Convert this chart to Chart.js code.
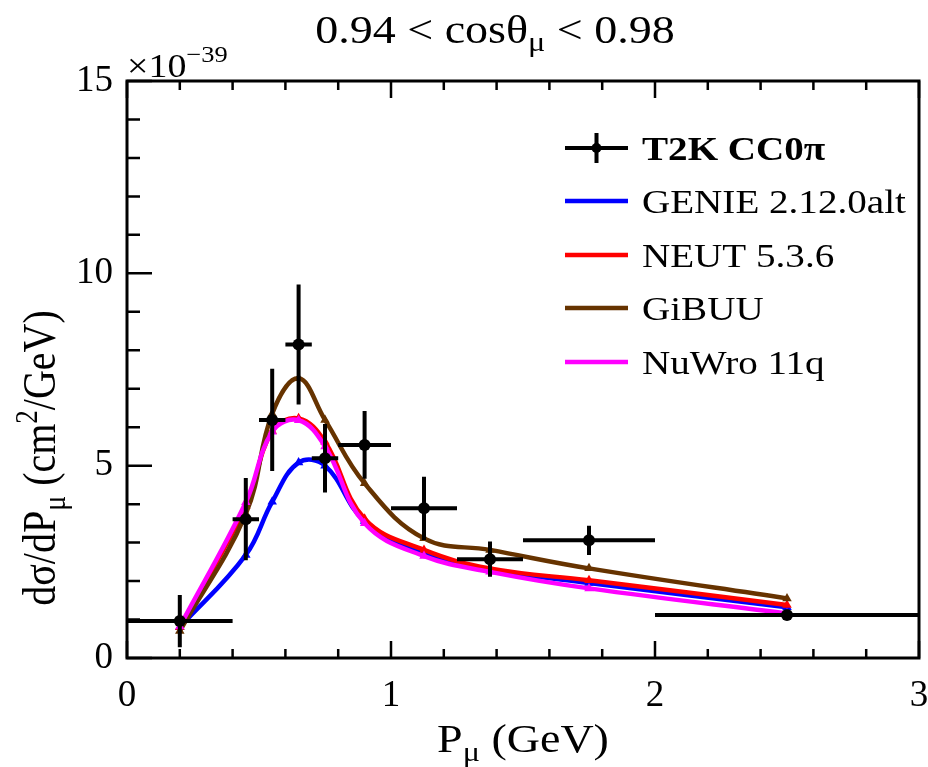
<!DOCTYPE html>
<html>
<head>
<meta charset="utf-8">
<script src="https://cdn.jsdelivr.net/npm/chart.js@4"></script>
<style>
  body { margin: 0; background: #fff; }
  canvas { display: block; }
</style>
</head>
<body>
<canvas id="xsecChart" width="928" height="767"></canvas>
<script>
// bins in muon momentum (GeV)
var pCenters = [0.2, 0.45, 0.55, 0.65, 0.75, 0.9, 1.125, 1.375, 1.75, 2.5];
var binLow   = [0.0, 0.4, 0.5, 0.6, 0.7, 0.8, 1.0, 1.25, 1.5, 2.0];
var binHigh  = [0.4, 0.5, 0.6, 0.7, 0.8, 1.0, 1.25, 1.5, 2.0, 3.0];

// T2K data, units of 1e-39 cm2/GeV
var t2kXsec = [0.96, 3.61, 6.19, 8.15, 5.19, 5.54, 3.89, 2.57, 3.06, 1.12];
var t2kErr  = [0.68, 1.07, 1.33, 1.56, 0.89, 0.88, 0.82, 0.46, 0.38, 0.05];

// generator predictions
var genie = [0.80, 2.68, 4.06, 5.08, 5.00, 3.56, 2.74, 2.30, 1.95, 1.32];
var neut  = [0.80, 3.95, 5.90, 6.23, 5.62, 3.62, 2.81, 2.33, 2.02, 1.38];
var gibuu = [0.70, 3.75, 6.35, 7.27, 6.19, 4.54, 3.11, 2.81, 2.33, 1.55];
var nuwro = [0.82, 4.05, 5.88, 6.18, 5.50, 3.50, 2.65, 2.24, 1.81, 1.16];

var xTickLabels = ['0', '1', '2', '3'];
var yTickLabels = ['0', '5', '10', '15'];

var FONT = '"Liberation Serif", "Times New Roman", serif';
var SX = 1.15; // text in the original is a bit wide

function pts(vals) {
    return vals.map(function (v, i) { return { x: pCenters[i], y: v }; });
}

// draw a run of text pieces [text, size, dy, bold]
function drawRuns(ctx, items, x, y, align, rotate) {
    ctx.save();
    var widths = items.map(function (it) {
        ctx.font = (it[3] ? 'bold ' : '') + it[1] + 'px ' + FONT;
        return ctx.measureText(it[0]).width;
    });
    var total = widths.reduce(function (a, b) { return a + b; }, 0);
    ctx.translate(x, y);
    if (rotate) {
        ctx.rotate(-Math.PI / 2);
        ctx.scale(1, SX);
    } else {
        ctx.scale(SX, 1);
    }
    var cx = 0;
    if (align === 'center') cx = -total / 2;
    if (align === 'right') cx = -total;
    ctx.fillStyle = '#000';
    ctx.textBaseline = 'alphabetic';
    ctx.textAlign = 'left';
    items.forEach(function (it, i) {
        ctx.font = (it[3] ? 'bold ' : '') + it[1] + 'px ' + FONT;
        ctx.fillText(it[0], cx, it[2]);
        cx += widths[i];
    });
    ctx.restore();
}

var modelStyle = function (label, vals, color, order) {
    return {
        label: label,
        data: pts(vals),
        borderColor: color,
        backgroundColor: color,
        borderWidth: 4.5,
        tension: 0.4,
        pointStyle: 'triangle',
        pointRadius: 5.5,
        pointBorderWidth: 0,
        order: order
    };
};

// frame, ticks, error bars, labels, legend
var decorations = {
    id: 'decorations',
    afterDatasetsDraw: function (chart) {
        var ctx = chart.ctx;
        var xs = chart.scales.x, ys = chart.scales.y;

        // error bars for the data
        ctx.save();
        ctx.strokeStyle = '#000';
        ctx.lineWidth = 4;
        ctx.beginPath();
        for (var i = 0; i < pCenters.length; i++) {
            var px = xs.getPixelForValue(pCenters[i]);
            var py = ys.getPixelForValue(t2kXsec[i]);
            ctx.moveTo(xs.getPixelForValue(binLow[i]), py);
            ctx.lineTo(xs.getPixelForValue(binHigh[i]), py);
            ctx.moveTo(px, ys.getPixelForValue(t2kXsec[i] - t2kErr[i]));
            ctx.lineTo(px, ys.getPixelForValue(t2kXsec[i] + t2kErr[i]));
        }
        ctx.stroke();
        ctx.restore();
    },
    afterDraw: function (chart) {
        var ctx = chart.ctx;
        var xs = chart.scales.x, ys = chart.scales.y;
        var a = chart.chartArea;

        ctx.save();
        ctx.strokeStyle = '#000';
        ctx.lineWidth = 3;
        ctx.strokeRect(a.left, a.top, a.right - a.left, a.bottom - a.top);

        ctx.lineWidth = 2.5;
        ctx.beginPath();
        // x ticks, bottom and top
        for (var k = 0; k <= 15; k++) {
            var v = k * 0.2;
            var px = xs.getPixelForValue(v);
            var len = (k % 5 === 0) ? 17 : 9;
            ctx.moveTo(px, a.bottom); ctx.lineTo(px, a.bottom - len);
            ctx.moveTo(px, a.top); ctx.lineTo(px, a.top + len);
        }
        // y ticks, left
        for (var j = 0; j <= 15; j++) {
            var py = ys.getPixelForValue(j);
            var l2 = (j % 5 === 0) ? 25 : 13;
            ctx.moveTo(a.left, py); ctx.lineTo(a.left + l2, py);
        }
        ctx.stroke();
        ctx.restore();

        // title
        drawRuns(ctx, [['0.94 < cos\u03b8', 40, 0], ['\u03bc', 28, 8], [' < 0.98', 40, 0]], 495, 43, 'center');
        // exponent
        drawRuns(ctx, [['\u00d710', 33, 0], ['\u221239', 23, -15]], a.left, 77, 'left');
        // x title
        drawRuns(ctx, [['P', 40, 0], ['\u03bc', 28, 9], [' (GeV)', 40, 0]], 523, 752, 'center');
        // y title
        drawRuns(ctx, [['d\u03c3/dP', 40, 0], ['\u03bc', 28, 9], [' (cm', 40, 0], ['2', 27, -16], ['/GeV)', 40, 0]],
            55, 458, 'center', true);

        // legend
        var lx0 = 565, lx1 = 628, tx = 642;
        var rows = [148, 201, 255, 308, 362];
        ctx.save();
        ctx.strokeStyle = '#000';
        ctx.lineWidth = 4;
        ctx.beginPath();
        ctx.moveTo(lx0, rows[0]); ctx.lineTo(lx1, rows[0]);
        ctx.moveTo((lx0 + lx1) / 2, rows[0] - 15); ctx.lineTo((lx0 + lx1) / 2, rows[0] + 15);
        ctx.stroke();
        ctx.fillStyle = '#000';
        ctx.beginPath();
        ctx.arc((lx0 + lx1) / 2, rows[0], 5, 0, Math.PI * 2);
        ctx.fill();
        var cols = ['#0000ff', '#ff0000', '#663300', '#ff00ff'];
        ctx.lineWidth = 4.5;
        for (var r = 1; r < 5; r++) {
            ctx.strokeStyle = cols[r - 1];
            ctx.beginPath();
            ctx.moveTo(lx0, rows[r]); ctx.lineTo(lx1, rows[r]);
            ctx.stroke();
        }
        ctx.restore();
        drawRuns(ctx, [['T2K CC0\u03c0', 34, 0, true]], tx, rows[0] + 12, 'left');
        drawRuns(ctx, [['GENIE 2.12.0alt', 34, 0]], tx, rows[1] + 12, 'left');
        drawRuns(ctx, [['NEUT 5.3.6', 34, 0]], tx, rows[2] + 12, 'left');
        drawRuns(ctx, [['GiBUU', 34, 0]], tx, rows[3] + 12, 'left');
        drawRuns(ctx, [['NuWro 11q', 34, 0]], tx, rows[4] + 12, 'left');
    }
};

var ctx = document.getElementById('xsecChart').getContext('2d');
var xsecChart = new Chart(ctx, {
    type: 'line',
    data: {
        datasets: [
            {
                label: 'T2K CC0\u03c0',
                data: pts(t2kXsec),
                showLine: false,
                pointRadius: 6,
                pointBorderWidth: 0,
                backgroundColor: '#000',
                borderColor: '#000',
                order: 0
            },
            modelStyle('GENIE 2.12.0alt', genie, '#0000ff', 4),
            modelStyle('NEUT 5.3.6', neut, '#ff0000', 3),
            modelStyle('GiBUU', gibuu, '#663300', 2),
            modelStyle('NuWro 11q', nuwro, '#ff00ff', 1)
        ]
    },
    options: {
        responsive: false,
        animation: false,
        layout: { padding: { top: 81, right: 9, left: 0, bottom: 0 } },
        plugins: {
            legend: { display: false },
            title: { display: false },
            tooltip: { enabled: false }
        },
        scales: {
            x: {
                type: 'linear',
                min: 0,
                max: 3,
                grid: { display: false },
                border: { display: false },
                ticks: {
                    stepSize: 1,
                    padding: 8,
                    color: '#000',
                    font: { family: FONT, size: 37 },
                    maxRotation: 0,
                    callback: function (v) { return xTickLabels[v]; }
                },
                afterFit: function (s) {
                    s.height = 109;
                    s.paddingLeft = 0;
                    s.paddingRight = 0;
                }
            },
            y: {
                min: 0,
                max: 15,
                grid: { display: false },
                border: { display: false },
                ticks: {
                    stepSize: 5,
                    padding: 6,
                    color: '#000',
                    font: { family: FONT, size: 37 },
                    callback: function (v) { return yTickLabels[v / 5]; }
                },
                afterFit: function (s) {
                    s.width = 127;
                    s.paddingTop = 0;
                    s.paddingBottom = 0;
                }
            }
        }
    },
    plugins: [decorations]
});
</script>
</body>
</html>
